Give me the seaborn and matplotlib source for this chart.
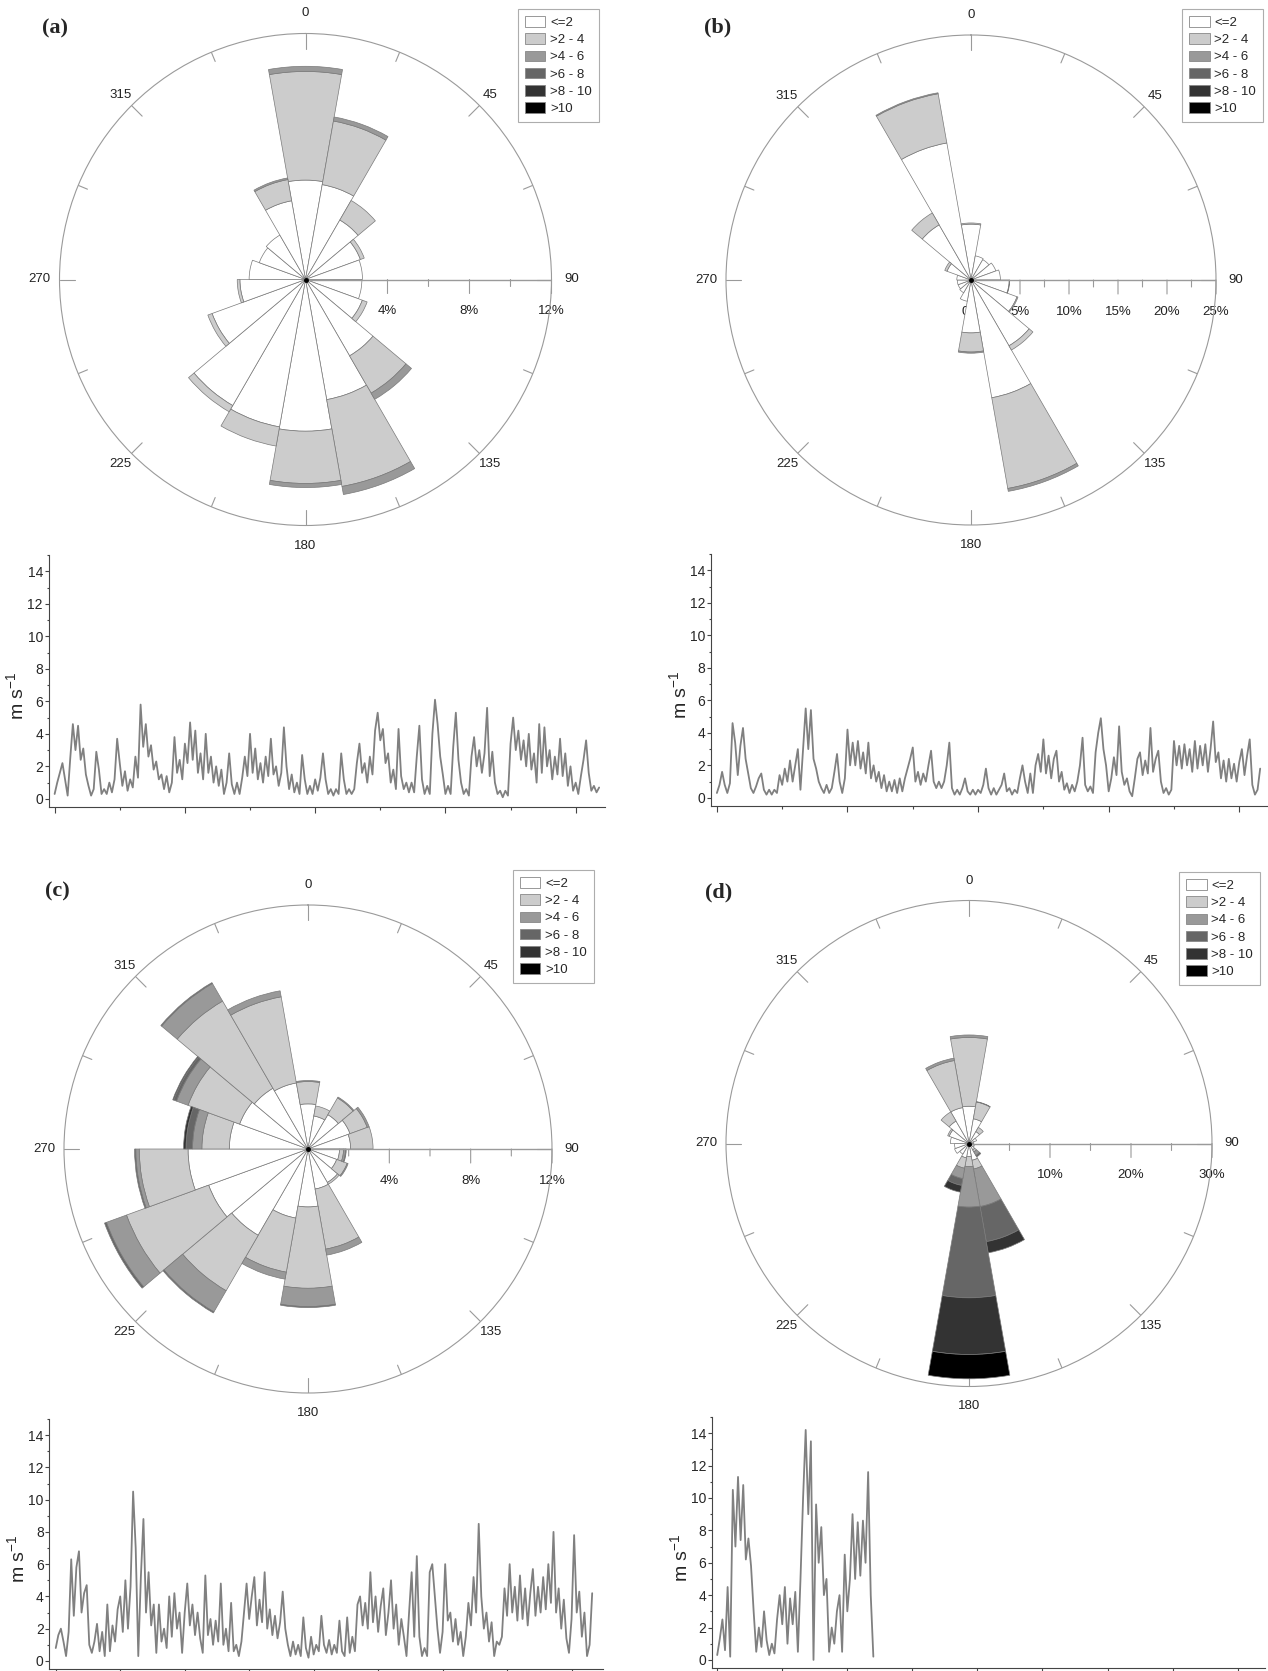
import numpy as np
import matplotlib
matplotlib.use("Agg")
import matplotlib.pyplot as plt
from matplotlib.patches import Patch
from matplotlib.ticker import MultipleLocator
import seaborn as sns

# ---- wind rose data: 18 sectors of 20 deg, frequency (%) per speed class ----
directions = np.arange(0, 360, 20)
speed_bins = ['<=2', '>2 - 4', '>4 - 6', '>6 - 8', '>8 - 10', '>10']
bin_colors = ['#ffffff', '#cccccc', '#999999', '#666666', '#333333', '#000000']

# (a)
a_le2 = [4.85, 4.7, 3.35, 2.85, 2.78, 2.75, 2.95, 4.3, 5.95, 7.4, 7.3, 7.1, 4.85, 3.2, 2.75, 2.4, 2.5, 3.9]
a_2_4 = [5.3, 3.15, 1.1, 0.2, 0, 0, 0.25, 2.1, 4.3, 2.55, 0.95, 0.35, 0.22, 0.13, 0, 0, 0, 1.05]
a_4_6 = [0.25, 0.2, 0, 0, 0, 0, 0, 0.35, 0.4, 0.2, 0, 0, 0, 0, 0, 0, 0, 0.08]
a_6_8 = [0] * 18
a_8_10 = [0] * 18
a_gt10 = [0] * 18

# (b)
b_le2 = [5.7, 2.5, 2.4, 2.7, 3.0, 3.9, 5.0, 7.75, 12.2, 5.4, 2.2, 1.5, 1.4, 1.4, 1.45, 2.6, 6.5, 14.2]
b_2_4 = [0.12, 0, 0, 0, 0, 0.05, 0.1, 0.5, 9.4, 1.95, 0, 0, 0, 0, 0, 0.25, 1.4, 5.1]
b_4_6 = [0, 0, 0, 0, 0, 0, 0, 0, 0.3, 0.12, 0, 0, 0, 0, 0, 0, 0, 0.1]
b_6_8 = [0] * 18
b_8_10 = [0] * 18
b_gt10 = [0] * 18

# (c)
c_le2 = [2.22, 1.65, 1.95, 2.2, 2.1, 1.55, 1.5, 1.9, 2.0, 2.85, 3.45, 4.9, 5.2, 5.9, 3.87, 3.58, 3.45, 3.3]
c_2_4 = [1.1, 0.5, 0.95, 0.9, 1.1, 0.2, 0.55, 0.1, 3.0, 4.0, 2.7, 3.15, 4.3, 2.4, 1.35, 2.7, 4.95, 4.3]
c_4_6 = [0.05, 0, 0.05, 0.1, 0, 0.1, 0.05, 0, 0.3, 0.9, 0.35, 1.2, 1.05, 0.17, 0.46, 0.6, 1.0, 0.3]
c_6_8 = [0, 0, 0, 0, 0, 0.03, 0, 0, 0, 0.05, 0, 0.06, 0.1, 0.06, 0.32, 0.15, 0.05, 0]
c_8_10 = [0, 0, 0, 0, 0, 0, 0, 0, 0, 0, 0, 0, 0, 0, 0.12, 0.05, 0, 0]
c_gt10 = [0] * 18

# (d)
d_le2 = [4.6, 3.1, 1.7, 1.0, 0.6, 0.5, 0.7, 0.9, 2.1, 1.6, 1.8, 1.5, 1.9, 1.8, 2.3, 2.6, 3.2, 4.5]
d_2_4 = [8.5, 2.1, 0.6, 0, 0, 0, 0, 0.3, 1.1, 1.25, 1.3, 0, 0, 0, 0, 0.2, 1.3, 5.9]
d_4_6 = [0.3, 0.05, 0, 0, 0, 0, 0, 0.5, 4.7, 5.0, 1.3, 0, 0, 0, 0, 0, 0, 0.3]
d_6_8 = [0, 0, 0, 0, 0, 0, 0, 0.2, 4.4, 11.2, 0.85, 0, 0, 0, 0, 0, 0, 0]
d_8_10 = [0, 0, 0, 0, 0, 0, 0, 0, 1.4, 7.0, 0.85, 0, 0, 0, 0, 0, 0, 0]
d_gt10 = [0, 0, 0, 0, 0, 0, 0, 0, 0, 3.0, 0, 0, 0, 0, 0, 0, 0, 0]

# ---- wind speed time series (m s-1) ----
a_speed = [0.3, 1.0, 1.6, 2.2, 1.2, 0.2, 2.5, 4.6, 3.0, 4.5,
           2.4, 3.1, 1.5, 0.8, 0.2, 0.6, 2.9, 1.8, 0.3, 0.6,
           0.3, 1.0, 0.4, 1.2, 3.7, 2.2, 0.8, 1.7, 0.5, 1.2,
           0.7, 2.6, 1.3, 5.8, 3.2, 4.6, 2.6, 3.3, 1.8, 2.3,
           1.2, 1.5, 0.6, 1.4, 0.4, 1.0, 3.8, 1.6, 2.4, 1.2,
           3.4, 2.2, 4.7, 2.4, 4.2, 1.6, 2.8, 1.2, 4.0, 1.6,
           2.6, 1.0, 2.0, 0.8, 1.8, 0.3, 1.0, 2.8, 0.9, 0.3,
           1.0, 0.3, 1.3, 2.6, 1.4, 4.0, 1.6, 3.1, 1.2, 2.2,
           1.0, 2.6, 1.4, 3.7, 1.5, 2.0, 0.8, 1.6, 4.4, 2.0,
           0.6, 1.5, 0.4, 1.0, 0.3, 2.7, 1.2, 0.3, 0.8, 0.3,
           1.2, 0.5, 1.3, 2.8, 1.2, 0.3, 0.6, 0.2, 0.6, 0.3,
           2.8, 1.2, 0.3, 0.6, 0.3, 0.6, 2.2, 3.4, 1.6, 2.2,
           1.0, 2.6, 1.5, 4.2, 5.3, 3.6, 4.3, 2.2, 2.8, 1.0,
           1.8, 0.6, 4.3, 1.4, 0.6, 1.0, 0.4, 1.0, 0.4, 2.6,
           4.5, 1.2, 0.3, 0.8, 0.3, 4.0, 6.1, 4.6, 2.6, 1.5,
           0.3, 0.8, 0.3, 3.2, 5.3, 2.4, 1.0, 0.3, 0.6, 0.2,
           2.6, 3.8, 2.0, 3.0, 1.6, 2.8, 5.6, 1.4, 2.9, 1.0,
           0.3, 0.5, 0.1, 0.5, 0.2, 3.4, 5.0, 3.0, 4.2, 2.4,
           3.6, 2.0, 4.0, 1.8, 2.8, 1.0, 4.6, 1.6, 4.4, 2.0,
           3.0, 1.2, 2.6, 1.5, 3.7, 1.4, 2.8, 0.8, 2.0, 0.5,
           1.0, 0.3, 1.4, 2.4, 3.6, 1.6, 0.5, 0.8, 0.4, 0.7]

b_speed = [0.3, 0.8, 1.6, 0.8, 0.3, 0.9, 4.6, 3.4, 1.4, 3.2,
           4.3, 2.4, 1.5, 0.6, 0.3, 0.7, 1.2, 1.5, 0.5, 0.2,
           0.5, 0.2, 0.5, 0.3, 1.4, 0.8, 1.8, 1.0, 2.3, 1.0,
           2.0, 3.0, 0.5, 3.0, 5.5, 3.0, 5.4, 2.4, 1.8, 1.0,
           0.6, 0.3, 0.8, 0.3, 0.6, 1.6, 2.7, 1.0, 0.3, 1.2,
           4.2, 2.0, 3.4, 2.0, 3.5, 1.8, 2.8, 1.5, 3.4, 1.2,
           2.0, 1.0, 1.6, 0.6, 1.4, 0.4, 1.0, 0.4, 1.1, 0.3,
           1.2, 0.4, 1.2, 1.8, 2.4, 3.1, 1.0, 1.6, 0.8, 1.5,
           1.0, 2.0, 2.9, 1.0, 0.6, 1.0, 0.6, 1.0, 2.0, 3.4,
           0.6, 0.2, 0.5, 0.2, 0.6, 1.2, 0.4, 0.2, 0.5, 0.2,
           0.5, 0.3, 0.8, 1.8, 0.6, 0.2, 0.6, 0.2, 0.5, 0.8,
           1.5, 0.4, 0.6, 0.2, 0.5, 0.3, 1.2, 2.0, 1.0, 0.3,
           1.5, 0.3, 2.0, 2.7, 1.6, 3.6, 1.5, 2.6, 1.2, 2.4,
           2.9, 1.0, 1.6, 0.5, 0.9, 0.3, 0.8, 0.4, 1.0, 2.0,
           3.7, 0.8, 0.4, 0.7, 0.3, 2.8, 4.0, 4.9, 3.0, 2.0,
           0.4, 1.2, 2.5, 1.4, 4.4, 1.6, 0.8, 1.2, 0.4, 0.1,
           1.2, 2.4, 2.8, 1.4, 2.3, 1.5, 4.3, 1.6, 2.4, 2.9,
           1.0, 0.3, 0.6, 0.2, 0.5, 3.5, 2.0, 3.2, 1.8, 3.3,
           2.0, 3.0, 1.6, 3.5, 1.8, 3.2, 2.0, 3.3, 1.6, 3.0,
           4.7, 2.2, 2.8, 1.2, 2.3, 1.0, 2.4, 1.2, 2.1, 1.0,
           2.2, 3.0, 1.4, 2.6, 3.6, 0.8, 0.2, 0.5, 1.8]

c_speed = [0.8, 1.6, 2.0, 1.2, 0.3, 1.8, 6.3, 2.8, 5.8, 6.8,
           3.0, 4.2, 4.7, 1.0, 0.5, 1.2, 2.3, 0.6, 1.8, 0.3,
           3.5, 0.6, 2.2, 1.2, 3.2, 4.0, 1.8, 5.0, 2.0, 4.6,
           10.5, 7.0, 0.3, 5.2, 8.8, 3.0, 5.5, 2.2, 3.5, 0.5,
           3.5, 1.2, 2.0, 0.8, 4.0, 1.5, 4.2, 2.0, 3.0, 0.5,
           3.0, 4.8, 2.2, 3.5, 1.6, 3.0, 1.4, 0.5, 5.3, 1.6,
           2.6, 1.0, 2.5, 1.2, 4.8, 1.0, 2.0, 0.6, 3.6, 0.6,
           1.0, 0.3, 1.2, 3.0, 4.8, 2.6, 4.0, 5.2, 2.2, 3.8,
           2.4, 5.5, 2.0, 3.2, 1.6, 2.8, 1.4, 2.4, 4.3, 2.0,
           1.0, 0.3, 1.2, 0.4, 1.0, 0.3, 2.7, 0.8, 0.2, 1.5,
           0.4, 1.0, 0.6, 2.8, 1.0, 0.5, 1.3, 0.4, 1.0, 0.5,
           2.5, 0.6, 0.3, 2.7, 0.5, 1.5, 0.6, 3.5, 4.0, 2.2,
           3.6, 2.0, 5.5, 2.4, 4.0, 1.8, 3.4, 4.5, 1.6, 3.0,
           5.0, 2.0, 3.5, 1.0, 2.6, 1.5, 0.3, 3.0, 5.5, 1.5,
           6.5, 1.5, 0.3, 0.8, 0.3, 5.5, 6.0, 4.0, 2.0, 0.5,
           1.8, 6.0, 2.5, 3.0, 1.2, 2.6, 1.0, 1.8, 0.3, 1.5,
           3.6, 2.2, 5.2, 3.0, 8.5, 4.0, 2.0, 3.0, 1.2, 2.4,
           0.3, 1.2, 1.0, 1.5, 4.5, 2.8, 6.0, 3.0, 4.6, 2.5,
           5.3, 2.6, 4.5, 2.2, 4.2, 5.7, 2.8, 4.6, 3.0, 5.2,
           3.2, 6.0, 3.6, 8.0, 3.0, 4.5, 2.0, 3.8, 1.4, 0.5,
           2.6, 7.8, 3.0, 4.3, 1.5, 3.0, 0.3, 1.0, 4.2]

d_speed = [0.3, 1.3, 2.5, 0.6, 4.5, 0.2, 10.5, 7.0, 11.3, 7.4,
           10.8, 6.2, 7.5, 5.8, 3.0, 0.5, 2.0, 0.8, 3.0, 1.2,
           0.3, 1.0, 0.4, 2.5, 4.0, 2.2, 4.5, 1.0, 3.8, 2.2,
           4.2, 0.5, 5.0, 10.0, 14.2, 9.0, 13.5, 0.0, 9.6, 6.0,
           8.2, 4.0, 5.0, 0.5, 2.0, 1.0, 3.0, 4.0, 0.5, 6.5,
           3.0, 5.0, 9.0, 5.0, 8.5, 5.2, 8.6, 6.0, 11.6, 4.0,
           0.2]

W, H = 1268, 1671
EDGE = '#7a7a7a'
AXC = '#9a9a9a'

sns.set_style('ticks')
plt.rcParams['font.family'] = ['Liberation Sans', 'DejaVu Sans']
plt.rcParams['mathtext.default'] = 'regular'


def px_rect(left, top, width, height):
    return [left / W, 1 - (top + height) / H, width / W, height / H]


def draw_rose(ax, bins, rmax, minor_step, major_step, r_px):
    theta = np.radians(directions)
    width = np.radians(20)
    bottom = np.zeros(len(directions))
    for vals, color in zip(bins, bin_colors):
        vals = np.asarray(vals, dtype=float)
        m = vals > 0
        if m.any():
            ax.bar(theta[m], vals[m], width=width, bottom=bottom[m], color=color,
                   edgecolor=EDGE, linewidth=0.5, zorder=2)
        bottom += vals
    ax.set_theta_zero_location('N')
    ax.set_theta_direction(-1)
    ax.set_ylim(0, rmax)
    ax.set_xticks([])
    ax.set_yticks([])
    ax.grid(False)
    ax.spines['polar'].set_edgecolor(AXC)
    ax.spines['polar'].set_linewidth(0.8)

    # compass ticks every 22.5 deg, pointing inwards
    for deg in np.arange(0, 360, 22.5):
        L = 15 if deg % 45 == 0 else 10
        ax.plot([np.radians(deg)] * 2, [rmax * (1 - L / r_px), rmax],
                color=AXC, lw=0.8, zorder=1)
    for deg in range(0, 360, 45):
        f = 1.082 if deg % 90 == 0 else 1.062
        ax.text(np.radians(deg), rmax * f, str(deg), ha='center', va='center',
                fontsize=9.5, color='#222222')

    # radial scale along 90 deg
    ax.plot([np.pi / 2, np.pi / 2], [0, rmax], color=AXC, lw=1.0, zorder=3)
    for v in np.arange(minor_step, rmax + 1e-6, minor_step):
        major = abs(v / major_step - round(v / major_step)) < 1e-6
        L = 14 if major else 7
        ax.annotate('', xy=(np.pi / 2, v), xytext=(0, -L), textcoords='offset pixels',
                    annotation_clip=False, zorder=1,
                    arrowprops=dict(arrowstyle='-', color=AXC, lw=0.8,
                                    shrinkA=0, shrinkB=0))
    for v in np.arange(0, rmax + 1e-6, major_step):
        ax.annotate(f'{v:g}%', xy=(np.pi / 2, v), xytext=(0, -32),
                    textcoords='offset pixels', ha='center', va='center',
                    fontsize=9.5, color='#222222', annotation_clip=False, zorder=1)
    ax.plot(0, 0, 'o', ms=2.5, color='black', zorder=4)


def draw_series(ax, values, xlim):
    x = np.arange(len(values)) * 0.04
    sns.lineplot(x=x, y=values, ax=ax, color='#808080', linewidth=1.3, errorbar=None)
    ax.set_xlim(*xlim)
    ax.set_ylim(-0.5, 15)
    ax.set_xticks([0, 2, 4, 6, 8])
    ax.set_xticks([1, 3, 5, 7], minor=True)
    ax.set_xticklabels([])
    ax.set_yticks(range(0, 15, 2))
    ax.yaxis.set_minor_locator(MultipleLocator(1))
    ax.tick_params(axis='x', which='major', direction='out', length=4.5, width=0.8, color='#444444')
    ax.tick_params(axis='x', which='minor', direction='out', length=2.5, width=0.8, color='#444444')
    ax.tick_params(axis='y', which='major', direction='out', length=3, width=0.8, pad=1,
                   labelsize=10, color='#444444')
    ax.tick_params(axis='y', which='minor', direction='out', length=1.8, width=0.8, color='#444444')
    for lbl in ax.get_yticklabels():
        lbl.set_fontfamily(['Liberation Sans Narrow', 'Liberation Sans'])
    ax.set_xlabel('')
    ax.set_ylabel('m s$^{-1}$', fontsize=14)
    ax.yaxis.set_label_coords(-0.038, 0.44)
    sns.despine(ax=ax)
    for s in ('left', 'bottom'):
        ax.spines[s].set_color('#444444')
        ax.spines[s].set_linewidth(0.8)


fig = plt.figure(figsize=(W / 100, H / 100), dpi=100)

panels = [
    ('(a)', [a_le2, a_2_4, a_4_6, a_6_8, a_8_10, a_gt10], 12, 2, 4, (305.5, 279.5, 246),
     a_speed, (48.5, 555, 556.5, 252), (-0.094, 8.45), (55, 28), (517.6, 9)),
    ('(b)', [b_le2, b_2_4, b_4_6, b_6_8, b_8_10, b_gt10], 25, 2.5, 5, (971, 280, 245),
     b_speed, (711, 554, 557, 252), (-0.09, 8.44), (718, 27), (1182, 9)),
    ('(c)', [c_le2, c_2_4, c_4_6, c_6_8, c_8_10, c_gt10], 12, 2, 4, (308, 1149, 244),
     c_speed, (49.3, 1419, 553.2, 250), (-0.1, 8.48), (57, 891), (512.7, 870)),
    ('(d)', [d_le2, d_2_4, d_4_6, d_6_8, d_8_10, d_gt10], 30, 5, 10, (969, 1143.5, 243),
     d_speed, (712, 1417, 553, 251), (-0.08, 8.42), (719, 892), (1179, 872)),
]

handles = [Patch(facecolor=c, edgecolor='#888888', linewidth=0.6) for c in bin_colors]

for (letter, bins, rmax, mstep, lstep, (cx, cy, r), speed, ts_box, xlim,
     letter_xy, leg_xy) in panels:
    rax = fig.add_axes(px_rect(cx - r, cy - r, 2 * r, 2 * r), projection='polar')
    draw_rose(rax, bins, rmax, mstep, lstep, r)

    tax = fig.add_axes(px_rect(*ts_box))
    draw_series(tax, speed, xlim)

    fig.text(letter_xy[0] / W, 1 - letter_xy[1] / H, letter, ha='center', va='center',
             fontsize=16, fontweight='bold', family=['Liberation Serif', 'DejaVu Serif'])

    leg = fig.legend(handles, speed_bins, loc='upper left',
                     bbox_to_anchor=(leg_xy[0] / W, 1 - leg_xy[1] / H),
                     bbox_transform=fig.transFigure, frameon=True, fancybox=False,
                     edgecolor='#999999', fontsize=9.5, handlelength=1.55,
                     handleheight=0.85, handletextpad=0.35, labelspacing=0.33,
                     borderpad=0.55, borderaxespad=0)
    leg.get_frame().set_linewidth(0.8)

fig.savefig('out.png', dpi=100)
